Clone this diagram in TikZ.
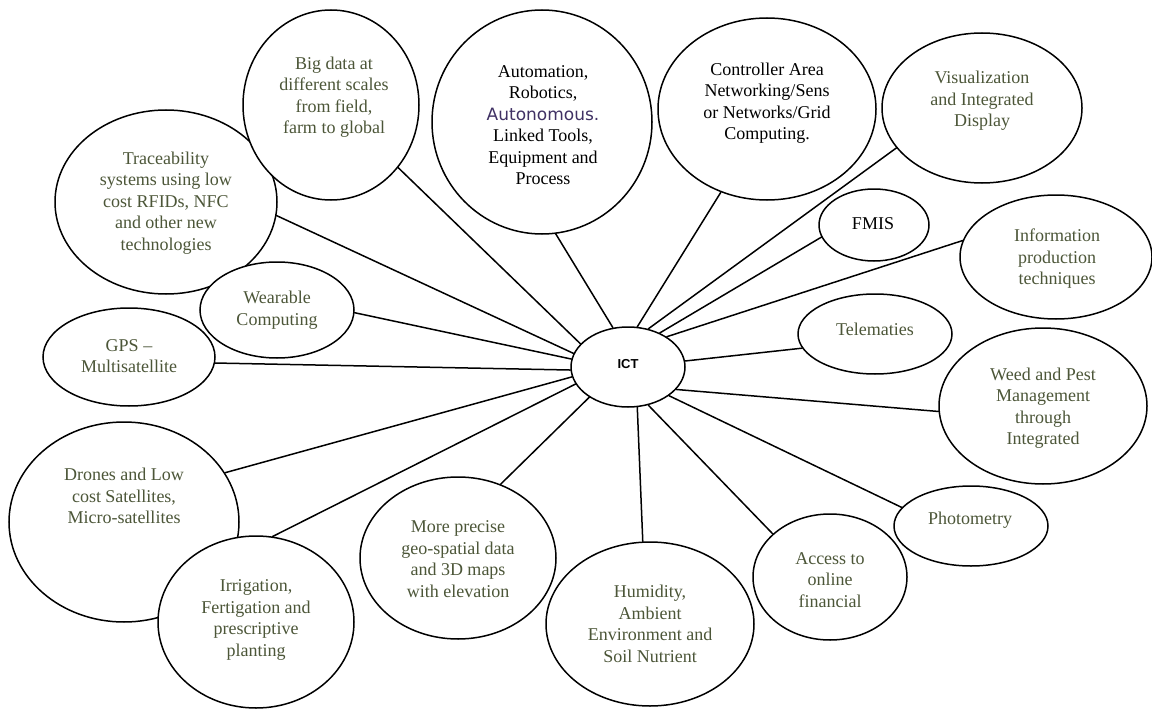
\documentclass[tikz,border=0pt]{standalone}
\usepackage{fontspec}
\setmainfont{Liberation Serif}
\newfontfamily\capfont{Liberation Serif}
\newfontfamily\autofont{DejaVu Sans}
\newfontfamily\hubfont{Liberation Sans}
\usetikzlibrary{shapes.geometric}
\definecolor{olivetext}{RGB}{76,86,56}
\definecolor{autopurple}{RGB}{64,49,100}
\tikzset{
  bubble/.style={ellipse, draw=black, line width=1.5pt, fill=white, inner sep=0pt},
  caption/.style={align=center, font=\capfont\fontsize{18}{21.5}\selectfont, text=olivetext, inner sep=0pt},
  captionblack/.style={caption, text=black},
  spoke/.style={line width=1.5pt, line cap=round},
}
% \blob{name}{cx}{cy}{rx}{ry}
\newcommand{\blob}[5]{\node[bubble, minimum width=#4pt*2, minimum height=#5pt*2] (#1) at (#2,#3) {};}
\begin{document}
\begin{tikzpicture}[x=1pt,y=-1pt]
\useasboundingbox (0,0) rectangle (1152,709);

% outer bubbles (later ones overlap earlier ones)
\blob{trace}{166}{202}{111}{92}
\blob{big}{331}{105}{88}{95}
\blob{auto}{542}{122}{110}{112}
\blob{ctrl}{767}{109}{109}{91}
\blob{vis}{982}{108}{100}{75}
\blob{fmis}{874}{225}{55}{36}
\blob{info}{1056}{257}{96}{62}
\blob{tele}{875}{334}{77}{40}
\blob{weed}{1043}{406}{104}{78}
\blob{photo}{971}{526}{77}{40}
\blob{access}{830}{577}{77}{63}
\blob{humid}{650}{624}{104}{82}
\blob{precise}{458}{558}{98}{81}
\blob{drones}{124}{522}{115}{100}
\blob{irrig}{256}{622}{98}{86}
\blob{gps}{129}{357}{86}{49}
\blob{wear}{277}{310}{77}{48}
\blob{ICT}{628}{367}{57}{40}

% captions
\node[caption] (traceT) at (166,203) {Traceability\\systems using low\\cost RFIDs, NFC\\and other new\\technologies};
\node[caption] (bigT) at (334,97) {Big data at\\different scales\\from field,\\farm to global};
\node[captionblack] (autoT) at (543,125) {Automation,\\Robotics,\\{\autofont\color{autopurple}\fontsize{17}{21.5}\selectfont Autonomous.}\\Linked Tools,\\Equipment and\\Process};
\node[captionblack] (ctrlT) at (767,103) {Controller Area\\Networking/Sens\\or Networks/Grid\\Computing.};
\node[caption] (visT) at (982,101) {Visualization\\and Integrated\\Display};
\node[captionblack] (fmisT) at (873,224) {FMIS};
\node[caption] (infoT) at (1057,259) {Information\\production\\techniques};
\node[caption] (teleT) at (875,329) {Telematies};
\node[caption] (weedT) at (1043,408) {Weed and Pest\\Management\\through\\Integrated};
\node[caption] (photoT) at (970,520) {Photometry};
\node[caption] (accessT) at (830,580) {Access to\\online\\financial};
\node[caption] (humidT) at (650,624) {Humidity,\\Ambient\\Environment and\\Soil Nutrient};
\node[caption] (preciseT) at (458,559) {More precise\\geo-spatial data\\and 3D maps\\with elevation};
\node[caption] (irrigT) at (256,620) {Irrigation,\\Fertigation and\\prescriptive\\planting};
\node[caption] (dronesT) at (124,496) {Drones and Low\\cost Satellites,\\Micro-satellites};
\node[caption] (gpsT) at (129,356) {GPS –\\Multisatellite};
\node[caption] (wearT) at (277,310) {Wearable\\Computing};
\node[inner sep=0pt, font=\hubfont\bfseries\fontsize{13}{15}\selectfont] (ictT) at (628,364) {ICT};

% spokes from the hub
\draw[spoke] (trace.-7)   -- (ICT.166);
\draw[spoke] (big.-43)    -- (ICT.154);
\draw[spoke] (auto.-83)   -- (ICT.111);
\draw[spoke] (ctrl.241)   -- (ICT.77);
\draw[spoke] (vis.205)    -- (ICT.62);
\draw[spoke] (fmis.193)   -- (ICT.47);
\draw[spoke] (info.170)   -- (ICT.38);
\draw[spoke] (tele.191)   -- (ICT.6);
\draw[spoke] (weed.183)   -- (ICT.-25);
\draw[spoke] (photo.165)  -- (ICT.-35);
\draw[spoke] (access.143) -- (ICT.-62);
\draw[spoke] (humid.95)   -- (ICT.-77);
\draw[spoke] (precise.60) -- (ICT.218);
\draw[spoke] (irrig.79)   -- (ICT.198);
\draw[spoke] (drones.26)  -- (ICT.190);
\draw[spoke] (gps.-4)     -- (ICT.183);
\draw[spoke] (wear.-2)    -- (ICT.172);
\end{tikzpicture}
\end{document}
